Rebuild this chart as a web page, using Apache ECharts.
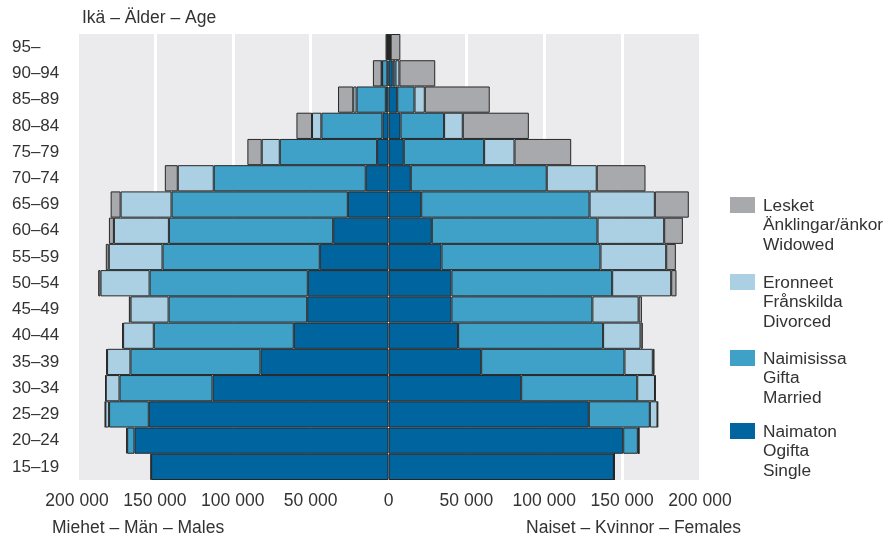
<!DOCTYPE html>
<html>
<head>
<meta charset="utf-8">
<script src="https://cdn.jsdelivr.net/npm/echarts@6/dist/echarts.min.js"></script>
<style>html,body{margin:0;padding:0;background:#fff}#c{width:890px;height:538px}</style>
</head>
<body>
<div id="c"></div>
<script>
const ageGroups = ['15–19','20–24','25–29','30–34','35–39','40–44','45–49','50–54','55–59','60–64','65–69','70–74','75–79','80–84','85–89','90–94','95–'];
const maleSingle   = [152400,163100,153900,113000,82200,60800,52200,51800,44100,35500,26100,14600,7300,3900,1700,700,200];
const maleMarried  = [300,4700,25500,59700,83500,89900,89000,101600,101000,105500,113200,97600,62500,39200,18800,3400,500];
const maleDivorced = [0,600,2400,8800,15000,19700,24400,31500,34500,35300,32700,23100,11600,6000,2100,300,100];
const maleWidowed  = [0,0,200,400,500,600,1100,1500,1900,3200,6400,8300,9200,10000,9800,5600,1100];
const femSingle    = [144700,150700,128600,85200,59500,44700,40400,40400,34000,27800,21000,14300,9800,7700,5600,2700,800];
const femMarried   = [300,9400,39200,74500,92000,93100,90500,103200,102100,106400,108100,87300,51600,28000,11100,1800,300];
const femDivorced  = [0,600,4900,11400,18200,24000,29700,37900,42200,42800,41900,32100,19500,12000,6600,2500,300];
const femWidowed   = [0,0,300,400,1100,1500,2100,3400,6200,12000,21800,31300,36400,42400,41700,23000,6200];
const xTicks = [-200000,-150000,-100000,-50000,0,50000,100000,150000,200000];
const legendItems = [
  {lines:['Lesket','Änklingar/änkor','Widowed'], color:'#a8a9ac'},
  {lines:['Eronneet','Frånskilda','Divorced'], color:'#abd0e3'},
  {lines:['Naimisissa','Gifta','Married'], color:'#3fa0c8'},
  {lines:['Naimaton','Ogifta','Single'], color:'#00659f'}
];
const C = {single:'#00659f', married:'#3fa0c8', divorced:'#abd0e3', widowed:'#a8a9ac'};
const FONT = 'Liberation Sans, Arial, sans-serif';
const TXT = '#333333';
const FS = 17.5;

function neg(a){return a.map(v=>-v);}
function fmt(v){
  const s = String(Math.abs(v));
  return s.replace(/\B(?=(\d{3})+(?!\d))/g,' ');
}
function bar(name, data, color){
  return {
    type:'bar', name:name, stack:'all', data:data,
    barCategoryGap:'0%', barGap:'0%',
    itemStyle:{color:color, borderColor:'#262626', borderWidth:1},
    emphasis:{disabled:true}, animation:false
  };
}

const chart = echarts.init(document.getElementById('c'), null, {renderer:'canvas'});
const graphics = [
  {type:'text', left:82, top:9, style:{text:'Ikä – Älder – Age', font:FS+'px '+FONT, fill:TXT}},
  {type:'text', left:52, top:519, style:{text:'Miehet – Män – Males', font:FS+'px '+FONT, fill:TXT}},
  {type:'text', right:149, top:519, style:{text:'Naiset – Kvinnor – Females', font:FS+'px '+FONT, fill:TXT}}
];
const legTops = [197, 274, 350, 423];
legendItems.forEach((it,i)=>{
  graphics.push({type:'rect', shape:{x:730, y:legTops[i], width:25, height:16}, style:{fill:it.color}});
  graphics.push({type:'text', x:763, y:legTops[i]-1, style:{text:it.lines.join('\n'), font:'17.3px '+FONT, fill:TXT, lineHeight:19.5, verticalAlign:'top'}});
});

chart.setOption({
  animation:false,
  grid:{left:77, right:190, top:34, bottom:58, show:true, backgroundColor:'#ebebed', borderWidth:0},
  xAxis:{
    type:'value', min:-200000, max:200000, interval:50000,
    axisLine:{show:false}, axisTick:{show:false},
    splitLine:{show:true, lineStyle:{color:'#ffffff', width:3}},
    axisLabel:{formatter:fmt, color:TXT, fontSize:FS, fontFamily:FONT, margin:12,
      customValues:xTicks}
  },
  yAxis:{
    type:'category', data:ageGroups,
    axisLine:{show:false}, axisTick:{show:false},
    axisLabel:{align:'left', margin:65, color:TXT, fontSize:FS - 0.5, fontFamily:FONT}
  },
  series:[
    bar('mSingle', neg(maleSingle), C.single),
    bar('fSingle', femSingle, C.single),
    bar('mMarried', neg(maleMarried), C.married),
    bar('fMarried', femMarried, C.married),
    bar('mDivorced', neg(maleDivorced), C.divorced),
    bar('fDivorced', femDivorced, C.divorced),
    bar('mWidowed', neg(maleWidowed), C.widowed),
    bar('fWidowed', femWidowed, C.widowed)
  ],
  graphic:graphics
});
</script>
</body>
</html>
